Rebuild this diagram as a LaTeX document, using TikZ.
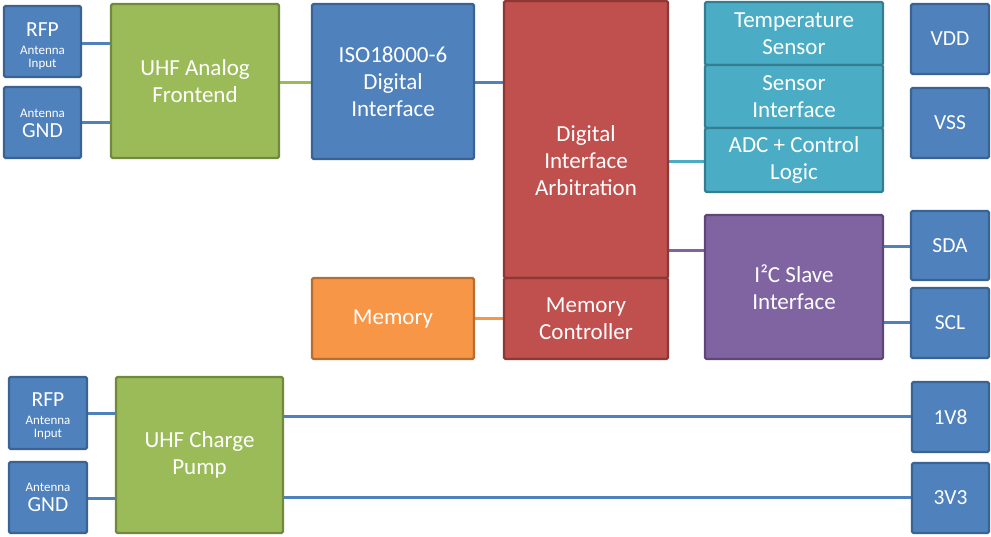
\documentclass[tikz,border=0pt]{standalone}
\usepackage{fontspec}
\setmainfont{Carlito}
\usetikzlibrary{backgrounds}

\definecolor{blueF}{HTML}{4F81BD}\definecolor{blueD}{HTML}{3A6394}
\definecolor{greenF}{HTML}{9BBB59}\definecolor{greenD}{HTML}{71893F}
\definecolor{redF}{HTML}{C0504D}\definecolor{redD}{HTML}{8C3836}
\definecolor{orangeF}{HTML}{F79646}\definecolor{orangeD}{HTML}{B66D31}
\definecolor{tealF}{HTML}{4BACC6}\definecolor{tealD}{HTML}{357D91}
\definecolor{purpleF}{HTML}{8064A2}\definecolor{purpleD}{HTML}{5C4776}

\newcommand{\bigtxt}{\fontsize{23}{27}\selectfont}
\newcommand{\pintxt}{\fontsize{21.5}{24}\selectfont}
\newcommand{\captxt}{\fontsize{13}{14}\selectfont}

\tikzset{
  blk/.style={draw, line width=2.4pt, rounded corners=1.5pt, text=white,
    align=center, inner sep=0pt, font=\bigtxt},
  pinbox/.style={blk, fill=blueF, draw=blueD, font=\pintxt},
  greenbox/.style={blk, fill=greenF, draw=greenD},
  redbox/.style={blk, fill=redF, draw=redD},
  orangebox/.style={blk, fill=orangeF, draw=orangeD},
  tealbox/.style={blk, fill=tealF, draw=tealD},
  purplebox/.style={blk, fill=purpleF, draw=purpleD},
  % single text lines placed on their baseline inside the antenna pins
  pinname/.style={anchor=base, inner sep=0pt, text=white, font=\pintxt},
  pincap/.style={anchor=base, inner sep=0pt, text=white, font=\captxt},
  wire/.style={line width=3pt}
}

\begin{document}
\begin{tikzpicture}[x=1pt,y=-1pt]
\useasboundingbox (0,0) rectangle (991,536);

% --- upper section: UHF frontend and digital core
\node[pinbox, minimum width=77pt, minimum height=71pt] (rfpA) at (42.5,41.5) {};
\node[pinname] (rfpAname) at (42.5,36) {RFP};
\node[pincap]  (rfpAcap1) at (42.5,54) {Antenna};
\node[pincap]  (rfpAcap2) at (42.5,67) {Input};
\node[pinbox, minimum width=77pt, minimum height=71pt] (gndA) at (42.5,122.5) {};
\node[pincap]  (gndAcap)  at (42.5,117) {Antenna};
\node[pinname] (gndAname) at (42.5,137) {GND};

\node[greenbox, minimum width=168pt, minimum height=154pt] (afe) at (195,81)
  {UHF Analog\\Frontend};
\node[pinbox, font=\bigtxt, minimum width=162pt, minimum height=155pt] (iso) at (393,81.5)
  {ISO18000-6\\Digital\\Interface};
\node[redbox, minimum width=164pt, minimum height=277pt] (dia) at (586,139.5) {};
\node[text=white, align=center, font=\bigtxt] (diaLabel) at (586,161)
  {Digital\\Interface\\Arbitration};
\node[redbox, minimum width=164pt, minimum height=81pt] (mc) at (586,318.5)
  {Memory\\Controller};
\node[orangebox, minimum width=162pt, minimum height=81pt] (mem) at (393,318.5)
  {Memory};

\node[tealbox, minimum width=178pt, minimum height=63pt] (temp) at (794,33.5)
  {Temperature\\Sensor};
\node[tealbox, minimum width=178pt, minimum height=63pt] (sif) at (794,96.5)
  {Sensor\\Interface};
\node[tealbox, minimum width=178pt, minimum height=64pt] (adc) at (794,160)
  {ADC + Control\\Logic};
\node[purplebox, minimum width=178pt, minimum height=144pt] (i2c) at (794,287)
  {I²C Slave\\Interface};

\node[pinbox, minimum width=78pt, minimum height=70pt] (vdd) at (950,39) {VDD};
\node[pinbox, minimum width=78pt, minimum height=70pt] (vss) at (950,123) {VSS};
\node[pinbox, minimum width=78pt, minimum height=69pt] (sda) at (950,245.5) {SDA};
\node[pinbox, minimum width=78pt, minimum height=70pt] (scl) at (950,323) {SCL};

% --- lower section: charge pump supply
\node[pinbox, minimum width=78pt, minimum height=72pt] (rfpB) at (48,413) {};
\node[pinname] (rfpBname) at (48,406) {RFP};
\node[pincap]  (rfpBcap1) at (48,424) {Antenna};
\node[pincap]  (rfpBcap2) at (48,437) {Input};
\node[pinbox, minimum width=78pt, minimum height=71pt] (gndB) at (48,497.5) {};
\node[pincap]  (gndBcap)  at (48,491) {Antenna};
\node[pinname] (gndBname) at (48,511) {GND};

\node[greenbox, minimum width=167pt, minimum height=156pt] (pump) at (199.5,455)
  {UHF Charge\\Pump};
\node[pinbox, minimum width=77pt, minimum height=70pt] (v18) at (950.5,417) {1V8};
\node[pinbox, minimum width=77pt, minimum height=70pt] (v33) at (950.5,498) {3V3};

% --- connections, kept behind the blocks
\begin{scope}[on background layer]
  \draw[wire, blueF]   (rfpA.east |- 0,43)  -- (afe.west |- 0,43);
  \draw[wire, blueF]   (gndA.east |- 0,122) -- (afe.west |- 0,122);
  \draw[wire, greenF]  (afe.east |- 0,82)   -- (iso.west |- 0,82);
  \draw[wire, blueF]   (iso.east |- 0,82)   -- (dia.west |- 0,82);
  \draw[wire, orangeF] (mem.east |- 0,318)  -- (mc.west |- 0,318);
  \draw[wire, tealF]   (dia.east |- 0,161)  -- (adc.west |- 0,161);
  \draw[wire, purpleF] (dia.east |- 0,250)  -- (i2c.west |- 0,250);
  \draw[wire, blueF]   (i2c.east |- 0,246)  -- (sda.west |- 0,246);
  \draw[wire, blueF]   (i2c.east |- 0,322)  -- (scl.west |- 0,322);
  \draw[wire, blueF]   (rfpB.east |- 0,413) -- (pump.west |- 0,413);
  \draw[wire, blueF]   (gndB.east |- 0,498) -- (pump.west |- 0,498);
  \draw[wire, blueF]   (pump.east |- 0,416) -- (v18.west |- 0,416);
  \draw[wire, blueF]   (pump.east |- 0,497) -- (v33.west |- 0,497);
\end{scope}
\end{tikzpicture}
\end{document}
